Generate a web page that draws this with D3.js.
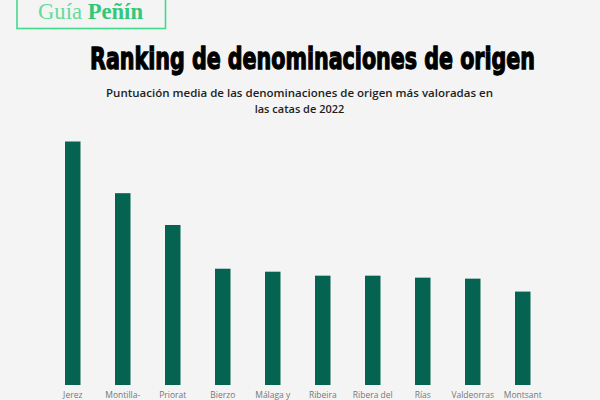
<!DOCTYPE html>
<html>
<head>
<meta charset="utf-8">
<script src="https://cdn.jsdelivr.net/npm/d3@7"></script>
<style>
  html, body { margin: 0; padding: 0; background: #f4f4f4; }
  svg { display: block; }
</style>
</head>
<body>
<svg id="chart" width="600" height="400"></svg>
<script>
// Data
const categories = ["Jerez", "Montilla-Moriles", "Priorat", "Bierzo", "Málaga y Sierras de Málaga",
  "Ribeira Sacra", "Ribera del Duero", "Rías Baixas", "Valdeorras", "Montsant"];
// visible first line of each (wrapped) label; the rest falls below the picture
const tickLabels = ["Jerez", "Montilla-", "Priorat", "Bierzo", "Málaga y",
  "Ribeira", "Ribera del", "Rías", "Valdeorras", "Montsant"];
const values = [93.50, 92.98, 92.66, 92.22, 92.19, 92.15, 92.15, 92.13, 92.12, 91.99];
const title = "Ranking de denominaciones de origen";
const subtitle = ["Puntuación media de las denominaciones de origen más valoradas en", "las catas de 2022"];

const svg = d3.select("#chart");
svg.append("rect").attr("width", 600).attr("height", 400).attr("fill", "#f4f4f4");

// Logo
svg.append("rect").attr("x", 17).attr("y", -10).attr("width", 148.5).attr("height", 38.5)
  .attr("fill", "none").attr("stroke", "#45d98a").attr("stroke-width", 1.6);
const logo = svg.append("text").attr("x", 38).attr("y", 19)
  .attr("font-family", "'Liberation Serif', serif").attr("font-size", 23)
  .attr("textLength", 105).attr("lengthAdjust", "spacingAndGlyphs");
logo.append("tspan").text("Guía ").attr("fill", "#62dc9c").attr("font-weight", 300);
logo.append("tspan").text("Peñín").attr("fill", "#33c878").attr("font-weight", "bold");

// Title (condensed, tall)
svg.append("g").attr("transform", "translate(312.5,69) scale(1,1.4)")
  .append("text").attr("x", 0).attr("y", 0).attr("text-anchor", "middle")
  .attr("font-family", "'DejaVu Sans Condensed', 'DejaVu Sans', sans-serif")
  .attr("font-weight", "bold").attr("font-size", 22).attr("fill", "#000")
  .attr("stroke", "#000").attr("stroke-width", 0.9)
  .attr("textLength", 445).attr("lengthAdjust", "spacingAndGlyphs")
  .text(title);

// Subtitle
svg.append("text").attr("x", 299.5).attr("y", 97).attr("text-anchor", "middle")
  .attr("font-family", "'Open Sans', sans-serif").attr("font-weight", 600)
  .attr("font-size", 11).attr("fill", "#1e1e1e").attr("textLength", 387).attr("lengthAdjust", "spacingAndGlyphs")
  .text(subtitle[0]);
svg.append("text").attr("x", 299.5).attr("y", 113).attr("text-anchor", "middle")
  .attr("font-family", "'Open Sans', sans-serif").attr("font-weight", 600)
  .attr("font-size", 11).attr("fill", "#1e1e1e")
  .text(subtitle[1]);

// Scales
const x = d3.scaleBand().domain(categories).range([47.75, 547.75])
  .paddingInner(0.69).paddingOuter(0.345);
const y = d3.scaleLinear().domain([91.05, 93.5]).range([385, 141.5]);

svg.append("g").selectAll("rect").data(categories).join("rect")
  .attr("x", d => x(d))
  .attr("y", (d, i) => y(values[i]))
  .attr("width", x.bandwidth())
  .attr("height", (d, i) => y(91.05) - y(values[i]))
  .attr("fill", "#046451");

// Axis labels
const xAxis = d3.axisBottom(x).tickSize(0).tickPadding(0)
  .tickFormat((d, i) => tickLabels[i]);
const ax = svg.append("g").attr("transform", "translate(0,385)").call(xAxis);
ax.select(".domain").remove();
ax.selectAll(".tick text").attr("y", 13).attr("dy", null)
  .attr("font-family", "'Open Sans', sans-serif").attr("font-weight", 400)
  .attr("font-size", 8.5).attr("fill", "#777");
</script>
</body>
</html>
